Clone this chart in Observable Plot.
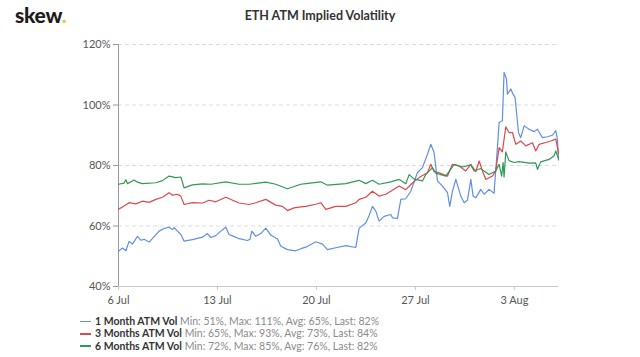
<!DOCTYPE html>
<html>
<head>
<meta charset="utf-8">
<script src="https://cdn.jsdelivr.net/npm/d3@7"></script>
<script src="https://cdn.jsdelivr.net/npm/@observablehq/plot@0.6"></script>
<style>
  html, body { margin: 0; padding: 0; background: #fff; }
  body { width: 640px; height: 357px; position: relative; overflow: hidden; font-family: Lato, "Open Sans", sans-serif; }
  #logo { position: absolute; left: 15px; top: 2px; font-weight: 900; font-size: 21px; color: #1c1c1c; letter-spacing: -0.3px; }
  #logo span { color: #f0c24a; }
  #title { position: absolute; left: 0; top: 8px; width: 640px; text-align: center; font-weight: bold; font-size: 12.5px; color: #333; }
  #chart { position: absolute; left: 0; top: 30px; }
  #legend { position: absolute; left: 80px; top: 315px; font-size: 10.5px; line-height: 12.4px; }
  .row { white-space: nowrap; }
  .dash { display: inline-block; width: 11px; height: 1.5px; vertical-align: middle; margin-right: 4px; position: relative; top: -1px; }
  .name { font-weight: bold; color: #333; }
  .stats { color: #8a8a8a; }
</style>
</head>
<body>
<div id="logo">skew<span>.</span></div>
<div id="title">ETH ATM Implied Volatility</div>
<div id="chart"></div>
<div id="legend"></div>
<script>
// Days since 6 Jul 2020 (00:00 UTC), implied volatility in %
const oneMonth = [[0,51.6],[0.28,52.7],[0.52,51.8],[0.75,54.9],[0.99,54],[1.34,56.6],[1.58,55.3],[1.81,55.6],[2.17,54.7],[2.52,56.5],[2.87,58.3],[3.23,59.2],[3.58,59.6],[3.82,58.8],[3.93,59.5],[4.17,58.3],[4.41,57.2],[4.64,55],[5.23,55.5],[5.94,56.3],[6.29,57.5],[6.53,56.2],[6.88,56.8],[7.23,58.3],[7.59,59.6],[7.82,57.2],[8.18,56.5],[8.53,55.8],[9.12,55.2],[9.29,55.6],[9.43,58.3],[9.71,56.6],[10.06,57.5],[10.42,59.3],[10.77,57],[11.12,56],[11.24,55.8],[11.48,53.3],[11.95,52.2],[12.54,51.8],[12.9,52.5],[13.25,53],[13.95,54.8],[14.43,54],[14.78,52.2],[15.37,52.8],[16.08,53.5],[16.78,52.9],[17.02,59.3],[17.49,61],[17.73,63.5],[17.96,66.5],[18.2,64.9],[18.43,61.6],[18.79,63.2],[19.26,63.8],[19.38,62.7],[19.73,62.5],[19.97,68.8],[20.32,69],[20.67,71.5],[21.14,77.6],[21.5,79.3],[21.85,83.7],[22.09,87],[22.32,84.3],[22.56,74.9],[22.91,73.2],[23.27,71],[23.43,66.5],[23.62,71.5],[23.86,75.4],[24.21,69.9],[24.45,67.7],[24.68,68.5],[24.92,75.4],[25.08,69.9],[25.27,69.3],[25.62,72.1],[25.86,70.5],[26.21,72.1],[26.56,70.8],[26.8,85.9],[26.92,94.2],[27.15,94.8],[27.27,110.8],[27.44,108.6],[27.51,103.6],[27.75,105.3],[27.91,103.5],[28.05,102.5],[28.29,90.9],[28.45,89.2],[28.69,93.1],[29.04,92],[29.4,91.2],[29.63,92],[29.98,89.2],[30.34,89.5],[30.69,90],[30.93,91.5],[31.05,88.5],[31.12,81.8]];
const threeMonths = [[0,65.5],[0.28,66.3],[0.75,67.7],[1.22,67.3],[1.69,68.2],[2.17,67.8],[2.64,68.8],[3.11,69.5],[3.58,71],[3.82,70.2],[4.17,70.5],[4.41,69.8],[4.64,67.1],[5.23,67.7],[5.94,67.6],[6.41,68.5],[6.88,68],[7.59,69.5],[8.53,67.6],[9.24,67.1],[9.71,67.7],[10.42,68.8],[11.12,66.9],[11.6,66.5],[11.95,65.1],[12.42,66],[12.9,66.3],[13.25,66.5],[13.95,67.2],[14.31,67.7],[14.66,65.5],[15.37,66.5],[16.08,66.5],[16.78,67.7],[17.02,68.8],[17.49,69.5],[17.96,71.5],[18.43,69.9],[18.9,70.5],[19.26,71.5],[19.85,73.2],[20.32,72],[20.79,74.2],[21.26,76],[21.85,77.6],[22.09,80.4],[22.32,78],[22.68,77.6],[23.27,76.5],[23.62,80.4],[24.09,79.8],[24.56,78.2],[24.92,80.4],[25.27,78],[25.51,81.5],[25.74,78.2],[25.98,75.4],[26.45,76.5],[26.68,78.2],[26.92,85.9],[27.15,84.5],[27.39,92.8],[27.62,90.9],[27.86,90.9],[28.1,87],[28.45,88.1],[28.81,86.5],[29.28,87.5],[29.51,84.8],[29.75,87],[30.22,87.6],[30.57,88.1],[30.93,88.7],[31.12,84]];
const sixMonths = [[0,73.8],[0.4,74.2],[0.52,75.3],[0.64,74],[1.11,75.2],[1.34,74.5],[1.69,74],[2.64,74.3],[3.11,75],[3.58,76.5],[4.05,76],[4.41,76.2],[4.64,72.6],[5.23,73.6],[5.94,73.9],[6.53,73.8],[7.59,74.6],[8.53,73.8],[9.24,73.8],[10.42,74.5],[11.12,73.8],[11.95,72.3],[12.9,73.8],[13.25,74],[14.31,74.6],[14.78,73.5],[16.08,74],[17.02,75.1],[17.49,74],[17.96,75.1],[18.43,73.8],[19.26,74.6],[19.85,75.4],[20.32,74],[20.56,77],[20.91,75.5],[21.5,74.9],[21.73,77],[22.2,79.3],[22.44,77.5],[23.15,76.5],[23.74,80.4],[24.33,79.5],[24.92,80.2],[25.15,78.2],[25.62,79],[25.74,78.5],[26.21,77],[26.68,78.2],[26.92,80.4],[27.1,76.5],[27.2,81],[27.27,76.2],[27.39,84.5],[27.62,81.6],[27.98,81],[28.33,81.3],[29.04,80.8],[29.51,80.9],[29.63,78.7],[29.86,81.2],[30.45,82],[30.81,83.2],[30.93,84.8],[31.12,82.2]];

const seriesNames = ["1 Month ATM Vol", "3 Months ATM Vol", "6 Months ATM Vol"];
const seriesStats = ["Min: 51%, Max: 111%, Avg: 65%, Last: 82%", "Min: 65%, Max: 93%, Avg: 73%, Last: 84%", "Min: 72%, Max: 85%, Avg: 76%, Last: 82%"];
const seriesColors = ["#5f90e2", "#e0474c", "#2f9a55"];

const yTicks = [40, 60, 80, 100, 120];
const xTickDays = [0, 7, 14, 21, 28];
const xTickLabels = ["6 Jul", "13 Jul", "20 Jul", "27 Jul", "3 Aug"];
const lastDay = 31.12;

const START = Date.UTC(2020, 6, 6);
const toDate = d => new Date(START + d * 864e5);
const toRows = arr => arr.map(([d, v]) => ({date: toDate(d), value: v}));
const allSeries = [oneMonth, threeMonths, sixMonths].map(toRows);

const tickDates = xTickDays.map(toDate);
const labelOf = new Map(tickDates.map((t, i) => [+t, xTickLabels[i]]));

const chart = Plot.plot({
  width: 640,
  height: 280,
  marginTop: 14,
  marginLeft: 118,
  marginRight: 82,
  marginBottom: 24,
  x: {type: "utc", domain: [toDate(0), toDate(lastDay)]},
  y: {domain: [40, 120]},
  style: {fontFamily: "Lato, 'Open Sans', sans-serif", fontSize: "11px", color: "#555", background: "transparent"},
  marks: [
    Plot.ruleY(yTicks.slice(1), {stroke: "#dcdcdc", strokeDasharray: "4,3"}),
    Plot.ruleY([40], {stroke: "#c8c8c8"}),
    Plot.ruleX([toDate(0)], {stroke: "#9a9a9a"}),
    Plot.axisY({ticks: yTicks, tickFormat: d => d + "%", tickSize: 5, tickPadding: 3, stroke: "#9a9a9a", label: null}),
    Plot.axisX({ticks: tickDates, tickFormat: d => labelOf.get(+d), tickSize: 4, tickPadding: 6, stroke: "#c8c8c8", label: null}),
    ...allSeries.map((rows, i) => Plot.line(rows, {x: "date", y: "value", stroke: seriesColors[i], strokeWidth: 1.2}))
  ]
});
document.getElementById("chart").appendChild(chart);

const legend = document.getElementById("legend");
seriesNames.forEach((name, i) => {
  const row = document.createElement("div");
  row.className = "row";
  row.innerHTML = `<span class="dash" style="background:${seriesColors[i]}"></span><span class="name">${name}</span> <span class="stats">${seriesStats[i]}</span>`;
  legend.appendChild(row);
});
</script>
</body>
</html>
